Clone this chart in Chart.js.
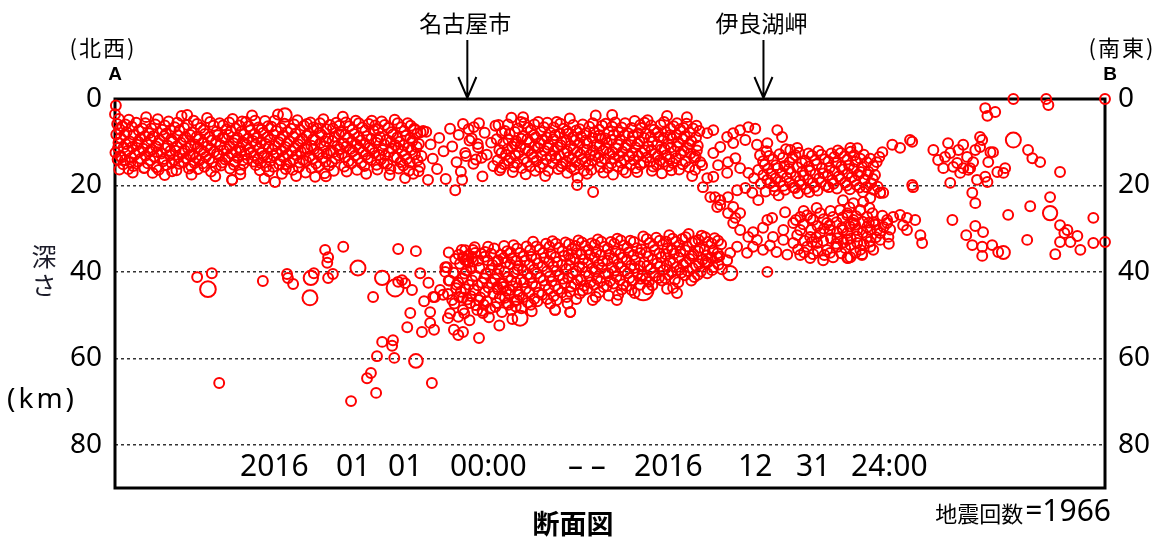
<!DOCTYPE html>
<html>
<head>
<meta charset="utf-8">
<script src="https://cdn.jsdelivr.net/npm/chart.js@4.4.1/dist/chart.umd.min.js"></script>
<style>
  html, body { margin: 0; background: #fff; }
  canvas { display: block; }
</style>
</head>
<body>
<canvas id="chart" width="1162" height="541"></canvas>
<script>
// 断面図 A-B : 距離(km) と 深さ(km)
const sectionLength = 229;
const depthMax = 90;
const depthTicks = [0, 20, 40, 60, 80];
const defaultMag = 1.5;

// 浅い地震 (西側・密集)
const shallowWest = [
  [0.2,1.5],[0.0,3.5],[0.5,5.8],[0.3,8.2],[0.8,10.1],[0.1,12.4],[0.6,14.0],
  [1.7,6.3],[1.3,9.0],[2.0,11.2],[1.5,13.5],[1.9,15.1],
  [3.2,4.8],[2.7,7.6],[3.4,9.8],[2.9,12.0],[3.6,14.6],[3.1,16.2],
  [4.9,5.5],[4.3,8.3],[5.1,10.6],[4.6,12.9],[4.2,15.5],
  [6.3,6.8],[5.8,9.2],[6.5,11.5],[6.0,13.8],[6.7,16.0],
  [7.2,4.2],[7.9,7.9],[7.4,10.3],[8.1,12.1],[7.6,14.9],
  [9.3,5.9],[8.8,8.6],[9.5,11.0],[9.0,13.3],[9.6,15.8],[8.7,17.1],
  [10.9,7.1],[10.3,9.5],[10.7,12.6],[11.1,14.4],
  [12.4,5.2],[11.8,8.0],[12.2,10.8],[12.7,13.0],[11.9,15.3],
  [13.8,6.5],[13.3,9.9],[14.0,11.9],[13.6,14.1],[13.2,16.7],
  [15.4,3.9],[14.9,7.3],[15.2,10.1],[15.6,12.5],[14.8,15.0],
  [16.8,6.0],[16.3,8.8],[16.9,11.4],[16.4,13.7],[17.1,16.1],
  [18.2,5.0],[17.8,7.7],[18.5,10.5],[18.0,12.9],[18.4,14.8],[17.7,17.5],
  [19.8,6.7],[19.3,9.3],[19.9,11.8],[19.5,14.2],
  [21.3,4.4],[20.8,8.1],[21.4,10.9],[21.0,13.4],[20.7,15.7],
  [22.8,6.2],[22.3,9.6],[22.9,12.2],[22.5,14.6],[22.2,16.8],
  [24.2,5.6],[23.8,8.4],[24.4,10.7],[24.0,13.1],[24.5,15.4],
  [25.8,7.0],[25.3,9.1],[25.9,11.6],[25.5,14.0],
  [27.2,4.6],[26.8,7.5],[27.4,10.2],[26.9,12.7],[27.5,15.2],[27.1,18.7],
  [28.7,6.1],[28.3,8.9],[28.9,11.3],[28.4,13.6],[29.0,16.3],
  [30.3,5.3],[29.8,8.2],[30.4,10.6],[30.0,12.8],[29.7,15.0],
  [31.7,3.8],[31.3,7.2],[31.9,9.7],[31.4,12.3],[32.0,14.5],
  [33.2,6.6],[32.8,9.0],[33.4,11.5],[33.0,13.9],[33.5,16.5],
  [34.7,5.1],[34.3,7.8],[34.9,10.4],[34.4,13.2],[35.0,15.6],[34.6,18.4],
  [36.2,6.4],[35.8,9.4],[36.4,11.7],[36.0,14.3],
  [37.7,3.6],[37.3,7.4],[37.9,10.0],[37.4,12.6],[38.0,15.1],[37.0,19.2],
  [39.2,5.7],[38.8,8.5],[39.4,11.1],[39.0,13.5],[39.5,16.2],
  [40.7,6.9],[40.3,9.8],[40.9,12.1],[40.5,14.7],
  [42.2,4.9],[41.8,8.0],[42.4,10.5],[42.0,13.0],[42.5,15.8],[41.9,17.8],
  [43.7,6.2],[43.3,9.2],[43.9,11.4],[43.5,14.1],
  [45.2,5.4],[44.8,7.9],[45.4,10.8],[45.0,13.3],[45.5,16.0],
  [46.7,6.8],[46.3,9.5],[46.9,12.4],[46.5,14.9],[46.3,18.0],
  [48.2,4.7],[47.8,8.3],[48.4,11.0],[48.0,13.6],[48.5,17.2],
  [49.7,6.0],[49.3,9.1],[49.9,12.0],[49.5,15.4],
  [51.2,5.5],[50.8,8.7],[51.4,10.9],[51.0,13.8],
  [52.7,4.1],[52.3,7.6],[52.9,10.3],[52.5,12.7],[53.0,15.6],
  [54.2,6.3],[53.8,9.0],[54.4,11.6],[54.0,14.4],
  [55.7,5.0],[55.3,8.1],[55.9,10.6],[55.5,13.1],[56.0,16.4],
  [57.2,6.6],[56.8,9.6],[57.4,12.2],[57.0,14.8],
  [58.7,5.8],[58.3,8.6],[58.9,11.3],[58.5,13.7],
  [60.2,6.1],[59.8,7.3],[60.4,10.1],[60.0,12.5],[60.5,15.2],
  [61.7,5.2],[61.3,8.8],[61.9,11.8],[61.5,14.0],
  [63.2,6.7],[62.8,9.4],[63.4,12.3],[63.0,15.0],[63.5,17.6],
  [64.7,4.8],[64.3,8.2],[64.9,10.7],[64.5,13.4],
  [66.2,6.5],[65.8,9.9],[66.4,12.1],[66.0,14.6],[67.1,18.3],
  [67.7,5.6],[67.3,8.5],[67.9,11.2],[67.5,13.9],[68.0,16.6],
  [69.2,6.9],[68.8,9.7],[69.4,12.8],[69.0,17.3],
  [70.7,7.7],[70.3,10.4],[70.9,13.2],[70.5,15.7]
];

const shallowWestExtra = [
  [0.9,4.6],[1.1,7.0],[0.7,11.3],[1.2,13.2],[1.0,16.3],
  [2.4,5.9],[2.2,8.4],[2.5,10.4],[2.3,14.1],
  [3.9,6.4],[4.0,11.1],[3.8,13.6],[4.1,17.0],
  [5.5,7.3],[5.4,9.9],[5.6,12.2],[5.3,14.5],
  [7.0,5.6],[6.9,8.6],[7.1,13.1],[6.8,15.9],
  [8.4,6.8],[8.3,9.4],[8.5,11.7],[8.2,14.2],
  [9.9,4.7],[10.0,10.2],[9.8,12.3],[10.1,16.4],
  [11.5,6.1],[11.4,8.6],[11.6,11.4],[11.3,13.9],[11.5,17.6],
  [12.9,7.2],[13.0,9.3],[12.8,12.0],[13.1,14.8],
  [14.4,5.5],[14.5,8.4],[14.3,10.9],[14.6,13.5],[14.2,16.5],
  [16.0,6.7],[15.8,9.4],[16.1,11.9],[15.9,14.6],
  [17.4,8.3],[17.5,10.9],[17.3,13.0],[17.6,15.5],
  [19.0,5.8],[18.9,8.7],[19.1,11.2],[18.8,13.6],[19.2,16.2],
  [20.5,7.2],[20.4,10.0],[20.6,12.3],[20.3,14.9],
  [22.0,5.3],[21.9,8.7],[22.1,11.5],[21.8,13.9],
  [23.5,7.5],[23.4,9.9],[23.6,12.6],[23.3,15.7],[23.2,17.9],
  [25.0,6.1],[24.9,8.9],[25.1,11.9],[24.8,14.7],
  [26.4,5.4],[26.3,8.3],[26.5,10.9],[26.2,13.4],[26.6,16.1],
  [27.9,6.8],[27.8,9.5],[28.0,12.1],[27.7,14.5],
  [29.4,5.2],[29.3,7.5],[29.5,10.0],[29.2,12.0],[29.6,14.2],[29.0,17.4],
  [30.9,6.3],[30.8,9.1],[31.0,11.6],[30.7,13.8],
  [32.4,5.0],[32.3,8.1],[32.5,10.6],[32.2,13.1],[32.6,15.3],
  [33.9,7.1],[33.8,10.1],[34.0,12.5],[33.7,14.8],
  [35.4,6.3],[35.3,8.8],[35.5,11.1],[35.2,13.5],[35.6,16.7],
  [36.9,5.0],[36.8,8.3],[37.0,10.8],[36.7,13.1],[36.6,15.7],
  [38.4,6.7],[38.3,9.3],[38.5,11.9],[38.2,14.2],[38.6,17.3],
  [39.9,7.6],[39.8,10.3],[40.0,12.8],[39.7,15.1],
  [41.4,5.9],[41.3,8.8],[41.5,11.3],[41.2,14.0],[41.1,16.4],
  [42.9,7.2],[42.8,9.7],[43.0,12.2],[42.7,14.7],
  [44.4,5.8],[44.3,8.5],[44.5,11.6],[44.2,14.4],[44.1,17.0],
  [45.9,6.6],[45.8,9.3],[46.0,11.6],[45.7,13.9],
  [47.4,5.6],[47.3,7.8],[47.5,10.2],[47.2,12.8],[47.1,15.6],
  [48.9,7.0],[48.8,9.8],[49.0,12.6],[48.7,14.5],[48.8,17.9],
  [50.4,6.8],[50.3,9.7],[50.5,12.3],[50.2,14.6],[50.6,16.6],
  [51.9,6.2],[51.8,8.1],[52.0,11.6],[51.7,13.0],
  [53.4,5.4],[53.3,8.3],[53.5,11.0],[53.2,13.5],[53.6,16.8],
  [54.9,7.1],[54.8,9.8],[55.0,12.1],[54.7,14.9],
  [56.4,5.6],[56.3,8.8],[56.5,11.4],[56.2,13.8],
  [57.9,7.3],[57.8,10.3],[58.0,12.9],[57.7,15.5],[58.1,17.3],
  [59.4,5.0],[59.3,9.2],[59.5,11.6],[59.2,14.1],
  [60.9,7.0],[60.8,9.5],[61.0,12.9],[60.7,16.3],
  [62.4,6.0],[62.3,10.5],[62.5,13.1],[62.2,14.9],
  [63.9,7.7],[63.8,9.9],[64.0,11.5],[63.7,16.2],
  [65.4,5.6],[65.3,8.9],[65.5,11.4],[65.2,13.6],[65.6,16.1],
  [66.9,7.4],[66.8,10.7],[67.0,13.0],[66.7,15.4],
  [68.4,6.2],[68.3,9.0],[68.5,11.8],[68.2,14.7],
  [69.9,8.0],[69.8,11.1],[70.0,14.2],[70.2,16.7]
];

const shallowWestSparse = [
  [72.0,7.6],[73.0,10.5],[73.5,13.8],[74.5,16.2],[75.0,9.0],[76.0,12.1],[76.5,18.5],
  [77.5,6.9],[78.0,11.0],[79.0,14.6],[79.5,8.3],[80.0,16.8],[81.0,12.5],[78.7,21.1],
  [80.3,18.7],[82.0,9.6],[83.0,6.5],[83.5,14.0],[84.0,11.2],[85.0,17.9],[85.5,7.8],
  [86.0,12.9],[87.0,10.1],[87.5,15.5],[88.0,6.2],[16.7,3.7],[27.1,18.7],[72.4,18.7],
  [71.3,7.4],[84.2,5.6],[80.5,5.8],[81.8,7.0],[82.5,9.1],[83.9,10.4],[81.2,13.2],
  [82.9,15.0],[84.8,13.6]
];

// 浅い地震 (中央)
const shallowCentral = [
  [88.7,6.0],[88.3,9.3],[88.9,11.8],[88.5,14.2],[89.0,16.5],
  [90.2,7.4],[89.8,10.2],[90.4,12.9],[90.0,15.1],
  [91.7,4.3],[91.3,8.1],[91.9,11.0],[91.5,13.6],[92.0,16.9],
  [93.2,6.8],[92.8,9.7],[93.4,12.4],[93.0,14.8],
  [94.4,4.2],[94.7,5.6],[94.3,8.6],[94.9,11.5],[94.5,13.9],[95.0,17.4],
  [96.2,7.2],[95.8,10.0],[96.4,12.7],[96.0,15.6],
  [97.9,5.3],[97.3,8.9],[97.9,11.3],[97.5,14.3],
  [99.2,6.5],[98.8,9.5],[99.4,12.0],[99.0,15.0],[99.5,17.8],
  [100.7,7.8],[100.3,10.6],[100.9,13.2],
  [102.2,5.3],[101.8,8.4],[102.4,11.1],[102.0,13.7],[102.5,16.2],
  [103.7,6.9],[103.3,9.9],[103.9,12.5],[103.5,14.9],
  [105.2,4.5],[104.8,8.0],[105.4,10.8],[105.0,13.4],[105.5,15.8],
  [106.7,7.3],[106.3,9.6],[106.9,12.3],[106.5,14.6],[106.9,19.9],
  [108.2,5.9],[107.8,8.7],[108.4,11.6],[108.0,14.0],[108.5,16.6],
  [109.7,6.4],[109.3,10.3],[109.9,12.9],[109.5,15.3],[110.6,21.5],
  [111.2,3.8],[110.8,7.7],[111.4,10.5],[111.0,13.1],
  [112.7,6.2],[112.3,9.1],[112.9,11.9],[112.5,14.5],[113.0,17.0],
  [114.2,7.5],[113.8,10.1],[114.4,12.6],[114.0,15.9],
  [115.0,3.7],[115.7,5.4],[115.3,8.3],[115.9,11.4],[115.5,13.8],
  [117.2,6.6],[116.8,9.4],[117.4,12.2],[117.0,14.7],[117.5,16.4],
  [118.7,7.9],[118.3,10.7],[118.9,13.3],
  [120.2,5.1],[119.8,8.5],[120.4,11.2],[120.0,14.1],[120.5,16.0],
  [121.5,6.0],[121.7,6.7],[121.3,9.8],[121.9,12.4],[121.5,15.2],
  [123.2,4.9],[122.8,8.0],[123.4,10.9],[123.0,13.5],
  [124.7,7.1],[124.3,9.9],[124.9,12.8],[124.5,15.6],
  [126.2,6.0],[125.8,8.8],[126.4,11.7],[126.0,14.2],[126.5,17.2],
  [127.7,3.9],[127.3,7.6],[127.9,10.4],[127.5,13.0],[128.0,15.5],
  [129.2,6.3],[128.8,9.2],[129.4,12.1],[129.0,14.8],
  [130.7,7.0],[130.3,10.0],[130.9,12.7],[130.5,16.3],
  [132.3,4.2],[132.2,5.7],[131.8,8.6],[132.4,11.3],[132.0,14.4],
  [133.7,6.8],[133.3,9.7],[133.9,13.6],[133.5,17.8],
  [135.2,7.4],[134.8,10.8],[135.4,14.6]
];

const shallowCentralExtra = [
  [89.5,7.8],[89.4,12.5],[89.3,15.9],
  [90.9,5.9],[91.0,9.4],[90.8,11.6],[91.1,14.3],
  [92.5,7.6],[92.4,10.4],[92.6,13.1],[92.3,15.7],
  [93.9,5.3],[94.0,9.2],[93.8,11.0],[94.1,16.0],
  [95.5,6.6],[95.4,9.3],[95.6,12.0],[95.3,14.6],
  [97.0,5.9],[96.9,8.3],[97.1,10.9],[96.8,13.5],[97.2,16.6],
  [98.5,7.6],[98.4,10.3],[98.6,13.1],[98.3,15.8],
  [100.0,5.5],[99.9,8.9],[100.1,11.3],[99.8,14.0],[100.2,16.6],
  [101.5,6.6],[101.4,9.3],[101.6,12.0],[101.3,14.9],
  [103.0,5.7],[102.9,8.0],[103.1,10.7],[102.8,13.1],[103.2,15.6],
  [104.5,7.4],[104.4,9.5],[104.6,12.1],[104.3,14.5],[104.6,17.1],
  [106.0,6.0],[105.9,8.8],[106.1,11.5],[105.8,13.8],[106.2,16.3],
  [107.5,7.0],[107.4,10.2],[107.6,12.8],[107.3,15.2],[107.0,18.2],
  [109.0,7.9],[108.9,9.6],[109.1,11.8],[108.8,14.5],[109.2,17.3],
  [110.5,5.6],[110.4,9.0],[110.6,11.9],[110.3,14.2],[110.2,16.4],
  [112.0,7.1],[111.9,8.5],[112.1,10.8],[111.8,13.5],[112.2,15.8],
  [113.5,5.7],[113.4,9.1],[113.6,11.5],[113.3,13.9],
  [115.0,6.4],[114.9,9.5],[115.1,12.3],[114.8,14.9],[115.2,17.5],
  [116.5,7.7],[116.4,10.6],[116.6,13.2],[116.3,15.6],
  [118.0,5.6],[117.9,8.4],[118.1,11.3],[117.8,14.1],[118.2,17.0],
  [119.5,6.7],[119.4,9.8],[119.6,12.5],[119.3,15.2],
  [121.0,7.9],[120.9,10.4],[121.1,13.2],[120.8,16.9],
  [122.5,5.5],[122.4,9.0],[122.6,11.9],[122.3,14.7],
  [124.0,6.1],[123.9,8.8],[124.1,11.8],[123.8,14.5],[124.2,16.6],
  [125.5,7.7],[125.4,10.6],[125.6,13.2],[125.3,15.2],
  [127.0,5.3],[126.9,9.0],[127.1,11.5],[126.8,14.6],
  [128.5,6.8],[128.4,8.4],[128.6,11.2],[128.3,13.9],[128.7,16.5],
  [130.0,5.6],[129.9,8.3],[130.1,11.0],[129.8,13.7],
  [131.5,6.7],[131.4,9.3],[131.6,12.0],[131.3,15.1],
  [133.0,7.8],[132.9,10.5],[133.1,12.6],[132.8,15.8],
  [134.5,6.2],[134.4,8.9],[134.6,11.9],[134.3,13.3],[134.2,16.4]
];

// 伊良湖岬付近で下に折れる部分
const bendZone = [
  [137.0,7.9],[138.4,7.2],[141.6,8.8],[143.0,7.9],[144.6,7.2],[146.5,6.5],[148.1,6.9],
  [145.8,9.5],[143.0,10.2],[140.0,11.1],[138.4,12.5],[143.5,13.7],[141.8,14.6],[139.5,15.3],
  [144.6,16.0],[146.5,17.1],[147.8,18.3],[141.6,17.1],[138.4,18.0],[136.0,20.4],[137.7,22.7],
  [140.0,23.4],[141.8,22.7],[143.9,21.1],[145.8,20.6],[147.4,21.7],[148.8,23.4],[143.0,25.0],
  [144.6,26.4],[139.3,25.0],[141.8,26.4],[135.8,15.3],[137.0,18.3],[138.8,22.7],[140.0,24.5],
  [143.5,27.5]
];

// 浅い地震 (東側)
const shallowEast = [
  [149.2,13.0],[148.8,16.4],[149.4,19.6],
  [150.7,12.1],[150.3,15.2],[150.9,18.7],[150.5,21.4],
  [152.2,14.0],[151.8,17.3],[152.4,20.2],
  [153.7,12.8],[153.3,16.0],[153.9,19.1],[153.5,22.3],
  [155.2,11.6],[154.8,15.5],[155.4,18.2],[155.0,21.0],
  [156.7,13.6],[156.3,17.0],[156.9,20.5],
  [158.2,12.4],[157.8,15.8],[158.4,18.9],[158.0,21.8],
  [159.7,14.3],[159.3,17.7],[159.9,20.8],
  [161.2,13.1],[160.8,16.6],[161.4,19.4],
  [162.7,12.0],[162.3,15.1],[162.9,18.4],[162.5,21.2],
  [164.2,13.9],[163.8,17.2],[164.4,20.0],
  [165.7,12.6],[165.3,15.9],[165.9,18.8],
  [167.2,11.9],[166.8,14.8],[167.4,17.9],[167.0,20.7],
  [168.7,13.3],[168.3,16.3],[168.9,19.3],
  [170.2,12.2],[169.8,15.4],[170.4,18.1],[170.0,20.9],
  [171.7,11.4],[171.3,14.5],[171.9,17.5],[171.5,19.9],
  [173.2,12.9],[172.8,15.7],[173.4,18.6],[173.0,21.5],
  [174.7,13.8],[174.3,16.8],[174.9,19.5],
  [176.2,14.6],[175.8,17.6],[176.4,20.3],
  [153.2,7.2],[154.3,8.8],[156.2,11.8],[157.8,11.3],[150.9,10.2],[148.5,10.6],[170.1,11.3],
  [176.8,13.4],[177.5,12.3],[177.7,21.7],[177.0,21.7]
];

const shallowEastExtra = [
  [149.9,14.4],[150.0,17.6],[151.3,13.2],[151.1,16.1],[151.5,19.5],[152.9,15.3],[152.8,18.4],
  [152.6,21.2],[154.5,13.6],[154.3,17.1],[154.6,20.1],[156.0,14.6],[155.9,16.2],[156.1,19.4],
  [157.4,13.0],[157.5,17.9],[157.3,20.6],[158.9,14.8],[159.0,16.8],[158.8,19.8],[160.4,12.6],
  [160.5,15.6],[160.3,18.6],[160.6,21.5],[161.9,14.2],[162.0,17.4],[161.8,20.3],[163.4,12.9],
  [163.5,16.0],[163.3,19.2],[165.0,14.4],[164.9,17.6],[165.1,20.4],[166.4,13.4],[166.5,16.7],
  [166.2,19.6],[167.9,12.5],[168.0,15.6],[167.8,18.5],[169.4,14.0],[169.5,17.2],[169.3,20.0],
  [171.0,13.0],[170.9,16.2],[171.1,18.9],[172.4,13.8],[172.5,16.9],[172.2,20.5],[173.9,14.6],
  [174.0,17.5],[173.8,20.4],[175.4,15.5],[175.3,18.5],[175.5,21.0]
];

// 東端 (B 付近)
const farEast = [
  [179.8,10.6],[181.6,11.3],[183.9,9.5],[184.4,9.9],[184.6,20.4],[184.4,19.9],
  [189.3,11.8],[190.4,14.1],[192.7,10.2],[193.2,12.5],[194.8,14.8],[196.2,10.6],[197.1,13.4],
  [198.5,14.6],[200.1,8.8],[200.6,9.5],[200.1,11.1],[202.5,12.3],[203.1,12.3],[202.0,14.6],
  [204.1,16.9],[205.9,16.0],[205.5,17.1],[193.2,19.4],[195.5,17.1],[197.4,16.4],[199.4,18.7],
  [201.3,18.0],[201.8,19.2],[191.6,16.0],[193.9,15.7],[196.2,16.0],[197.8,16.0],[192.0,13.4],
  [195.1,11.8],[199.0,11.8],
  [211.2,11.8],[212.2,13.7],[214.0,14.6],[218.6,16.9],
  [207.8,0.0],[215.4,0.0],[215.9,1.4],[229.0,0.0],[201.3,2.1],[203.6,3.0],[201.8,3.9],
  [198.3,21.7],[199.0,24.1],[216.3,22.7],[211.7,24.8],[206.6,26.8],[226.3,27.5],[193.7,28.0],
  [199.0,29.4],[200.8,30.8],[196.9,31.5],[198.3,33.8],[200.6,34.2],[200.6,36.3],[202.9,33.8],
  [204.3,35.4],[211.0,32.6],[218.6,29.2],[220.3,30.3],[219.6,31.0],[222.6,31.7],[221.0,33.1],
  [218.6,33.1],[217.5,35.9],[223.3,34.9],[226.3,33.3],[229.0,33.1]
];

// プレート内 (西側・まばら)
const slabWest = [
  [19.0,41.2],[22.4,40.3],[34.2,42.1],[39.8,40.5],[40.0,41.4],[41.2,42.8],[46.0,40.3],
  [49.3,41.4],[50.4,40.5],[48.6,34.9],[49.3,36.6],[49.1,37.9],[52.8,34.2],[59.7,45.8],
  [65.5,42.3],[66.4,41.9],[67.1,42.6],[68.7,44.2],[65.5,34.7],[69.6,35.2],[70.6,40.3],
  [68.3,49.5],[67.6,52.8],[71.0,53.9],[72.9,49.3],[72.9,51.8],[73.8,53.4],[74.0,45.8],
  [76.4,38.9],[76.4,40.0],[75.2,44.2],[73.6,45.8],[75.9,45.3],[77.0,50.7],[79.4,50.4],
  [79.4,54.6],[80.5,53.9],[84.2,55.3],[80.5,36.6],[81.4,37.3],[81.7,37.9],[82.8,34.9],
  [85.6,35.4],[86.3,34.2],[81.0,37.3],[83.3,35.6],[88.6,37.3],[77.2,42.0],[78.0,46.5],
  [79.0,43.0],[71.5,46.8],[72.5,42.5],[80.5,46.0],[82.1,47.2],[83.8,48.8],[85.1,49.5],
  [88.4,43.5],[89.8,42.6],[91.4,44.2],[93.0,46.5],[90.7,47.2]
];

const slabDeep = [
  [61.8,56.2],[64.3,55.8],[64.1,57.1],[60.6,59.5],[64.6,59.9],[59.2,63.4],[58.3,64.6],
  [60.4,68.0],[54.6,69.9],[24.1,65.7],[73.3,65.7]
];

// プレート内 (中央・密集)
const slabCentral = [
  [77.2,35.5],[76.8,38.9],[77.4,42.0],[77.0,45.1],[77.5,49.6],
  [78.7,37.0],[78.3,40.2],[78.9,43.8],[78.5,47.3],[78.4,53.4],
  [80.2,34.9],[79.8,38.1],[80.4,41.5],[80.0,44.6],[80.5,48.8],
  [81.7,36.2],[81.3,39.7],[81.9,43.0],[81.5,46.4],[82.0,51.2],
  [83.2,34.3],[82.8,37.6],[83.4,40.9],[83.0,44.2],[83.5,47.7],
  [84.7,35.8],[84.3,39.1],[84.9,42.5],[84.5,45.9],[85.0,49.0],
  [86.2,37.3],[85.8,40.4],[86.4,43.6],[86.0,46.8],[86.5,50.5],
  [87.7,34.6],[87.3,38.4],[87.9,41.7],[87.5,45.0],[88.0,48.1],
  [89.2,36.0],[88.8,39.3],[89.4,42.8],[89.0,46.0],[89.5,49.3],[88.9,52.4],
  [90.7,35.2],[90.3,37.9],[90.9,41.2],[90.5,44.4],[91.0,47.6],
  [92.2,33.8],[91.8,36.9],[92.4,40.1],[92.0,43.3],[92.5,46.7],[91.9,50.9],
  [93.7,35.6],[93.3,38.6],[93.9,41.8],[93.5,45.3],[94.0,48.4],
  [95.2,34.1],[94.8,37.4],[95.4,40.6],[95.0,43.9],[95.5,47.1],
  [96.7,33.0],[96.3,36.5],[96.9,39.5],[96.5,42.7],[97.0,46.2],[96.4,49.1],
  [98.2,34.8],[97.8,38.0],[98.4,41.3],[98.0,44.8],
  [99.7,33.5],[99.3,36.8],[99.9,39.9],[99.5,43.1],[100.0,46.3],
  [101.2,32.9],[100.8,35.9],[101.4,38.7],[101.0,42.2],[101.5,45.6],[101.8,48.8],
  [102.7,34.4],[102.3,37.7],[102.9,40.8],[102.5,44.0],
  [104.2,33.2],[103.8,36.3],[104.4,39.4],[104.0,42.6],[104.5,45.8],
  [105.7,34.7],[105.3,37.2],[105.9,40.3],[105.5,43.4],[105.3,49.3],
  [107.2,32.7],[106.8,35.7],[107.4,38.8],[107.0,41.9],[107.5,45.0],
  [108.7,34.0],[108.3,37.1],[108.9,40.0],[108.5,43.2],
  [110.2,33.4],[109.8,36.1],[110.4,39.2],[110.0,42.4],[110.5,46.5],
  [111.7,32.5],[111.3,35.4],[111.9,38.3],[111.5,41.6],[112.0,44.7],
  [113.2,34.2],[112.8,37.5],[113.4,40.5],[113.0,43.5],
  [114.7,33.1],[114.3,36.0],[114.9,39.0],[114.5,42.1],
  [116.2,32.3],[115.8,35.2],[116.4,38.2],[116.0,41.1],[116.1,46.5],[116.4,45.3],
  [117.7,33.9],[117.3,36.7],[117.9,39.8],[117.5,42.9],
  [119.2,32.8],[118.8,35.5],[119.4,38.5],[119.0,41.4],[119.5,44.2],
  [120.7,34.5],[120.3,37.3],[120.9,40.4],
  [122.2,31.8],[121.8,34.8],[122.4,37.8],[122.0,40.9],[121.5,43.0],
  [123.7,33.3],[123.3,36.4],[123.9,39.3],[123.5,42.3],
  [125.2,32.1],[124.8,35.0],[125.4,38.0],[125.0,41.0],
  [126.7,33.7],[126.3,36.6],[126.9,39.6],[126.5,42.0],
  [128.2,31.5],[127.8,34.6],[128.4,37.4],[128.0,40.7],[129.1,43.7],
  [129.7,33.0],[129.3,35.8],[129.9,38.9],[129.5,41.8],[130.0,44.9],
  [131.2,32.4],[130.8,35.3],[131.4,38.3],[131.0,40.2],
  [132.7,31.2],[132.3,34.1],[132.9,37.0],[132.5,39.8],
  [134.2,32.9],[133.8,35.9],[134.4,38.6],[134.0,41.2],
  [135.7,31.6],[135.3,34.4],[135.9,37.2],[135.5,39.9],
  [137.2,33.1],[136.8,36.2],[137.0,37.9],[137.0,40.3],[138.4,38.9],
  [138.7,32.2],[138.3,35.1],[139.3,36.6],
  [140.2,33.6],[139.8,36.4],[140.4,39.4],[141.6,37.3],
  [101.8,48.8],[105.3,49.3],[150.9,40.0]
];

const slabCentralExtra = [
  [79.5,36.0],[79.4,42.5],[79.6,45.8],
  [81.0,35.0],[80.9,40.4],[81.1,44.0],[80.8,49.6],
  [82.5,36.8],[82.4,39.2],[82.6,42.0],[82.3,45.6],
  [84.0,37.4],[83.9,43.1],[84.1,46.5],
  [85.5,36.5],[85.4,41.5],[85.6,44.7],[85.3,47.6],
  [87.0,35.8],[86.9,39.6],[87.1,42.5],[86.8,48.5],
  [88.5,37.6],[88.4,40.5],[88.6,44.1],[88.3,47.2],
  [90.0,34.0],[89.9,36.8],[90.1,40.0],[89.8,43.5],[90.2,46.0],
  [91.5,35.5],[91.4,38.2],[91.6,42.0],[91.3,45.2],[91.7,48.8],
  [93.0,34.6],[92.9,37.4],[93.1,39.4],[92.8,42.5],[93.2,44.6],[92.7,48.0],
  [94.5,36.4],[94.4,39.6],[94.6,42.4],[94.3,45.9],
  [96.0,35.0],[95.9,38.3],[96.1,41.3],[95.8,44.7],[96.2,47.6],
  [97.5,34.1],[97.4,37.0],[97.6,40.4],[97.3,43.4],[97.7,46.8],
  [99.0,35.6],[98.9,38.7],[99.1,42.0],[98.8,45.3],
  [100.5,34.2],[100.4,37.6],[100.6,41.0],[100.3,44.0],[100.7,47.3],
  [102.0,33.5],[101.9,36.6],[102.1,39.8],[101.8,43.2],[102.2,46.5],
  [103.5,35.2],[103.4,38.4],[103.6,41.6],[103.3,44.8],
  [105.0,33.6],[104.9,36.0],[105.1,38.5],[104.8,41.4],[105.2,44.6],[104.7,47.3],
  [106.5,34.0],[106.4,37.0],[106.6,39.8],[106.3,42.8],[106.7,46.3],
  [108.0,33.2],[107.9,35.9],[108.1,38.9],[107.8,41.8],[108.2,44.3],
  [109.5,34.9],[109.4,37.9],[109.6,40.9],[109.3,43.9],
  [111.0,33.7],[110.9,36.8],[111.1,39.9],[110.8,43.0],[111.2,45.8],
  [112.5,33.0],[112.4,36.1],[112.6,39.1],[112.3,42.2],
  [114.0,34.6],[113.9,37.4],[114.1,40.3],[113.8,43.2],[114.2,45.5],
  [115.5,33.5],[115.4,36.9],[115.6,39.7],[115.3,42.7],
  [117.0,32.7],[116.9,35.8],[117.1,38.9],[116.8,41.9],[117.2,44.1],
  [118.5,34.4],[118.4,37.2],[118.6,40.3],[118.3,43.3],
  [120.0,33.1],[119.9,36.1],[120.1,39.1],[119.8,42.0],[120.2,44.9],
  [121.5,35.6],[121.4,38.6],[121.6,41.6],
  [123.0,32.4],[122.9,35.5],[123.1,38.6],[122.8,41.6],[123.2,44.0],
  [124.5,34.0],[124.4,37.1],[124.6,40.2],[124.3,43.1],
  [126.0,32.8],[125.9,35.7],[126.1,38.7],[125.8,41.4],
  [127.5,33.0],[127.4,35.9],[127.6,38.5],[127.3,41.5],[127.7,43.9],
  [129.0,32.3],[128.9,34.9],[129.1,37.9],[128.8,40.1],
  [130.5,33.8],[130.4,36.7],[130.6,39.5],[130.3,42.4],
  [132.0,32.0],[131.9,35.0],[132.1,37.8],[131.8,40.8],
  [133.5,33.2],[133.4,36.3],[133.6,39.1],[133.3,42.0],
  [135.0,32.6],[134.9,35.2],[135.1,38.2],[134.8,40.7],
  [136.5,32.0],[136.4,34.8],[136.6,37.6],
  [138.0,33.4],[137.9,36.7],[138.1,39.6],
  [139.5,32.8],[139.4,35.7],[139.6,38.3]
];

// プレート内 (東側)
const slabEast = [
  [143.0,28.7],[144.6,30.3],[146.5,31.9],[147.6,30.8],[149.9,29.8],[150.9,28.0],[148.5,32.6],
  [147.6,34.2],[149.9,34.9],[146.2,35.6],[143.9,34.2],[142.3,35.6],[152.2,31.9],[154.6,32.6],
  [154.6,30.3],[156.9,28.7],[151.5,33.9],[153.0,35.4],[155.5,36.0],[152.0,27.5],[155.0,26.2],
  [158.5,27.3],[160.1,26.9],[161.5,28.0],[163.1,26.4],[164.7,28.7],[166.1,27.3],[167.7,25.7],
  [169.4,26.9],[170.8,28.0],[172.4,25.7],[174.0,27.3],[158.5,30.3],[160.8,31.9],[163.1,31.0],
  [165.4,30.3],[167.1,32.2],[169.4,31.0],[171.7,30.3],[174.0,31.9],[176.3,30.3],[178.6,28.7],
  [180.0,27.3],[156.9,33.3],[160.1,34.2],[162.4,33.3],[164.7,34.9],[167.1,34.2],[170.1,33.8],
  [172.4,34.9],[174.7,34.2],[177.0,32.6],[158.5,36.1],[161.5,35.9],[163.8,37.3],[166.1,36.6],
  [169.4,36.8],[172.8,35.9],[175.4,34.9],
  [168.4,23.4],[170.8,24.1],[173.1,23.8],[174.7,22.9],[177.0,21.7],[169.4,26.4],[172.4,25.7],
  [175.2,26.4],[175.4,28.5],[174.0,29.6],[170.8,28.7],[168.4,30.3],[169.4,32.6],[171.7,33.3],
  [174.7,30.3],[168.9,34.5],[170.1,36.6],[172.8,36.1],[178.6,28.0],[181.6,26.8],
  [183.2,27.5],[185.1,28.0],[182.3,29.2],[183.2,30.3],[177.0,31.0],[178.9,31.9],[186.3,31.5],
  [186.7,33.3],[169.6,36.8]
];

const slabEastExtra = [
  [157.5,28.0],[157.8,31.5],[158.0,34.8],[159.3,25.9],[159.2,29.0],[159.5,32.8],[159.4,35.5],
  [160.9,27.6],[161.0,30.3],[161.2,33.1],[160.8,36.8],[162.3,25.2],[162.5,29.4],[162.2,32.0],
  [162.6,35.2],[163.9,27.8],[164.0,30.0],[163.8,32.8],[164.1,36.1],[165.5,25.9],[165.3,29.2],
  [165.6,32.2],[165.4,35.6],[166.9,28.5],[167.0,30.9],[166.8,33.5],[168.3,27.4],[168.2,29.8],
  [168.5,33.2],[168.0,35.7],[169.9,25.1],[170.0,29.5],[170.2,32.3],[171.4,27.1],[171.2,29.1],
  [171.6,31.8],[171.3,35.6],[172.9,28.4],[173.0,30.9],[173.2,33.6],[174.5,25.2],[174.4,28.6],
  [174.6,33.0],[175.9,29.1],[176.0,32.0],[177.5,27.0],[177.8,29.6],[179.3,30.2],[179.0,33.5]
];

// 規模の大きい地震 [距離, 深さ, M]
const largeQuakes = [
  [21.5,44.0,3.2],[45.3,41.4,2.8],[45.1,46.0,3.0],[56.2,39.1,3.0],[61.8,41.4,2.8],
  [64.8,43.7,3.6],[69.6,60.6,2.6],[122.2,44.2,4.6],[93.7,50.7,3.0],[142.3,40.3,2.8],
  [207.8,9.5,3.0],[216.3,26.4,2.8],[39.3,3.7,2.6],[69.4,7.6,2.6],[205.5,35.5,2.4]
];

const quakeGroups = [shallowWest, shallowWestExtra, shallowWestSparse, shallowCentral,
  shallowCentralExtra, bendZone, shallowEast, shallowEastExtra, farEast, slabWest, slabDeep,
  slabCentral, slabCentralExtra, slabEast, slabEastExtra, largeQuakes];

const points = [];
quakeGroups.forEach(group => {
  group.forEach(q => points.push({ x: q[0], y: q[1], m: q.length > 2 ? q[2] : defaultMag }));
});

const labelsPlugin = {
  id: 'sectionLabels',
  beforeDatasetsDraw(chart) {
    const { ctx, chartArea: a } = chart;
    ctx.save();
    ctx.strokeStyle = '#000';
    ctx.lineWidth = 3;
    ctx.strokeRect(a.left, a.top, a.right - a.left, a.bottom - a.top);
    ctx.restore();
  },
  afterDraw(chart) {
    const { ctx, chartArea: a } = chart;
    const xs = chart.scales.x;
    ctx.save();
    ctx.fillStyle = '#000';
    ctx.strokeStyle = '#000';
    ctx.textBaseline = 'middle';
    ctx.textAlign = 'center';

    // 地名と矢印
    const places = [['名古屋市', 81.5], ['伊良湖岬', 150.0]];
    ctx.font = '23px "Noto Sans CJK JP"';
    places.forEach(([name, km]) => {
      const px = xs.getPixelForValue(km);
      ctx.fillText(name, px - 2, 23);
      ctx.lineWidth = 2;
      ctx.beginPath();
      ctx.moveTo(px, 40);
      ctx.lineTo(px, a.top - 1);
      ctx.moveTo(px - 9, a.top - 22);
      ctx.lineTo(px, a.top - 1);
      ctx.lineTo(px + 9, a.top - 22);
      ctx.stroke();
    });

    ctx.letterSpacing = '2px';
    ctx.font = '22px "Noto Sans CJK JP"';
    ctx.fillText('(北西)', 103, 48);
    ctx.fillText('(南東)', 1122, 48);
    ctx.letterSpacing = '0px';

    ctx.font = 'bold 19px "Liberation Sans"';
    ctx.fillText('A', 115, 75);
    ctx.fillText('B', 1110, 75);

    ctx.font = '25px "Noto Sans CJK JP"';
    ctx.fillStyle = '#1c1c2a';
    ctx.fillText('深', 44, 256);
    ctx.fillText('さ', 44, 285);
    ctx.fillStyle = '#000';

    ctx.letterSpacing = '3px';
    ctx.font = '28px "Noto Sans"';
    ctx.fillText('(km)', 42, 400);
    ctx.letterSpacing = '0px';

    // 期間
    ctx.textAlign = 'left';
    ctx.font = '30px "Noto Sans"';
    const period = [['2016', 240], ['01', 336], ['01', 388], ['00:00', 450], ['– –', 568],
      ['2016', 634], ['12', 738], ['31', 796], ['24:00', 851]];
    period.forEach(([t, x]) => ctx.fillText(t, x, 467));

    ctx.textAlign = 'center';
    ctx.font = 'bold 27px "Noto Sans CJK JP"';
    ctx.fillText('断面図', 573, 524);

    ctx.textAlign = 'right';
    ctx.font = '30px "Noto Sans"';
    const countText = '=1966';
    ctx.fillText(countText, 1111, 512);
    const w = ctx.measureText(countText).width;
    ctx.font = '22px "Noto Sans CJK JP"';
    ctx.fillText('地震回数', 1111 - w - 2, 514);
    ctx.restore();
  }
};

const tickFont = { family: 'Noto Sans', size: 28 };

new Chart(document.getElementById('chart'), {
  type: 'scatter',
  data: {
    datasets: [{
      data: points,
      showLine: false,
      clip: false,
      backgroundColor: 'rgba(0,0,0,0)',
      borderColor: '#ff0000',
      borderWidth: 2,
      pointRadius: ctx => 2.4 + 1.7 * ctx.raw.m,
      pointHoverRadius: ctx => 2.4 + 1.7 * ctx.raw.m
    }]
  },
  options: {
    responsive: false,
    animation: false,
    events: [],
    layout: { padding: { top: 99, bottom: 53, left: 0, right: 0 } },
    plugins: { legend: { display: false }, tooltip: { enabled: false } },
    scales: {
      x: { type: 'linear', min: 0, max: sectionLength, display: false },
      y: {
        type: 'linear', position: 'left', reverse: true, min: 0, max: depthMax,
        afterBuildTicks: s => { s.ticks = depthTicks.map(v => ({ value: v })); },
        afterFit: s => { s.width = 115; },
        ticks: { font: tickFont, color: '#000', padding: 13 },
        grid: {
          drawTicks: false,
          lineWidth: 1.5,
          color: c => (c.tick && c.tick.value === 0) ? 'rgba(0,0,0,0)' : '#333'
        },
        border: { display: false, dash: [3, 3] }
      },
      y2: {
        type: 'linear', position: 'right', reverse: true, min: 0, max: depthMax,
        afterBuildTicks: s => { s.ticks = depthTicks.map(v => ({ value: v })); },
        afterFit: s => { s.width = 57; },
        ticks: { font: tickFont, color: '#000', padding: 13 },
        grid: { display: false, drawTicks: false },
        border: { display: false }
      }
    }
  },
  plugins: [labelsPlugin]
});
</script>
</body>
</html>
